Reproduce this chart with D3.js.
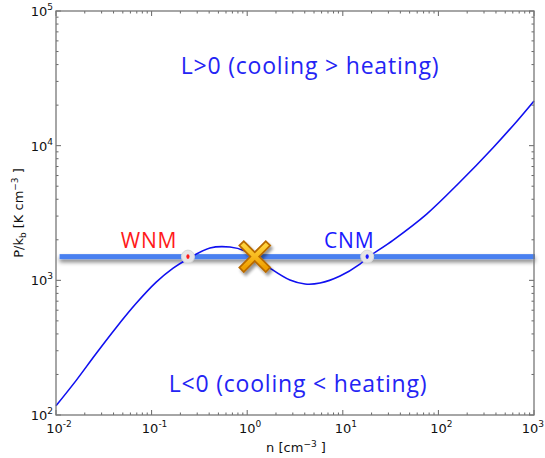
<!DOCTYPE html>
<html>
<head><meta charset="utf-8">
<title>Thermal equilibrium curve</title>
<style>
body { margin:0; background:#fff; }
svg text { font-family: "DejaVu Sans", sans-serif; }
.big { font-family: "Open Sans", Lato, sans-serif; letter-spacing: 0.8px; }
</style>
</head>
<body>
<svg width="545" height="458"></svg>
<script src="https://d3js.org/d3.v7.min.js"></script>
<script>
// density n [cm^-3] and pressure P/k [K cm^-3] along the equilibrium curve
var nVals = [0.01, 0.0162, 0.0262, 0.0425, 0.0687, 0.111, 0.168, 0.229, 0.408, 0.66, 0.95, 1.21, 1.73, 2.8, 4.03, 5.78, 9.36, 15.1, 17.9, 33.7, 75.4, 168, 375, 659, 1000];
var pVals = [117, 180, 285, 445, 672, 965, 1230, 1416, 1738, 1766, 1652, 1490, 1233, 1005, 939, 955, 1077, 1321, 1465, 1991, 3105, 5370, 9700, 15140, 21500];

var pEq = 1500;               // pressure of the horizontal line
var phaseNames = ["WNM", "CNM"];
var phaseN = [0.24, 18];
var phaseColors = ["#ff1a1a", "#1a1aff"];
var phaseLabelDx = [-39, -18];
var unstableN = 1.2;

var xTicks = [1e-2, 1e-1, 1e0, 1e1, 1e2, 1e3];
var xTickExp = ["-2", "-1", "0", "1", "2", "3"];
var yTicks = [1e2, 1e3, 1e4, 1e5];
var yTickExp = ["2", "3", "4", "5"];

var svg = d3.select("svg"),
    W = +svg.attr("width"), H = +svg.attr("height");
var m = {left: 56, right: 11, top: 11, bottom: 43};

var x = d3.scaleLog().domain([1e-2, 1e3]).range([m.left, W - m.right]);
var y = d3.scaleLog().domain([1e2, 1e5]).range([H - m.bottom, m.top]);

var defs = svg.append("defs");
var sh = defs.append("filter").attr("id", "shadow")
  .attr("x", "-10%").attr("y", "-100%").attr("width", "120%").attr("height", "400%");
sh.append("feDropShadow").attr("dx", 0).attr("dy", 3).attr("stdDeviation", 2)
  .attr("flood-color", "#000").attr("flood-opacity", 0.5);
var sh2 = defs.append("filter").attr("id", "shadow2")
  .attr("x", "-50%").attr("y", "-50%").attr("width", "200%").attr("height", "200%");
sh2.append("feDropShadow").attr("dx", 2).attr("dy", 3).attr("stdDeviation", 1.5)
  .attr("flood-color", "#000").attr("flood-opacity", 0.4);
var gr = defs.append("linearGradient").attr("id", "gold")
  .attr("x1", 0).attr("y1", 0).attr("x2", 0).attr("y2", 1);
gr.append("stop").attr("offset", "0%").attr("stop-color", "#ffd23a");
gr.append("stop").attr("offset", "100%").attr("stop-color", "#f0a000");

// axes frame and ticks (matplotlib style, inward, on all four sides)
var x0 = x.range()[0], x1 = x.range()[1], y0 = y.range()[0], y1 = y.range()[1];
var frame = svg.append("g");
var minorX = [], minorY = [];
xTicks.slice(0, -1).forEach(function(t) { for (var k = 2; k < 10; k++) minorX.push(t * k); });
yTicks.slice(0, -1).forEach(function(t) { for (var k = 2; k < 10; k++) minorY.push(t * k); });

function tickLines(vals, len, isX) {
  vals.forEach(function(v) {
    if (isX) {
      frame.append("line").attr("x1", x(v)).attr("x2", x(v)).attr("y1", y0).attr("y2", y0 - len);
      frame.append("line").attr("x1", x(v)).attr("x2", x(v)).attr("y1", y1).attr("y2", y1 + len);
    } else {
      frame.append("line").attr("y1", y(v)).attr("y2", y(v)).attr("x1", x0).attr("x2", x0 + len);
      frame.append("line").attr("y1", y(v)).attr("y2", y(v)).attr("x1", x1).attr("x2", x1 - len);
    }
  });
}
tickLines(xTicks, 5, true);
tickLines(minorX, 2.5, true);
tickLines(yTicks, 5, false);
tickLines(minorY, 2.5, false);
frame.selectAll("line").attr("stroke", "#666").attr("stroke-width", 1);

// equilibrium pressure band
svg.append("rect")
  .attr("x", x(0.0109)).attr("width", x(1e3) + 1 - x(0.0109))
  .attr("y", y(pEq) - 2.5).attr("height", 5)
  .attr("fill", "#4a80f0")
  .attr("filter", "url(#shadow)");

// cooling = heating curve
var line = d3.line()
  .x(function(d) { return x(d[0]); })
  .y(function(d) { return y(d[1]); })
  .curve(d3.curveCatmullRom);
svg.append("path")
  .datum(d3.zip(nVals, pVals))
  .attr("d", line)
  .attr("fill", "none").attr("stroke", "#1010f0").attr("stroke-width", 1.6);

svg.append("rect")
  .attr("x", x0).attr("y", y1).attr("width", x1 - x0).attr("height", y0 - y1)
  .attr("fill", "none").attr("stroke", "#777").attr("stroke-width", 1.3);

// stable phases
phaseNames.forEach(function(name, i) {
  var cx = x(phaseN[i]), cy = y(pEq);
  svg.append("circle").attr("cx", cx).attr("cy", cy).attr("r", 6.5)
    .attr("fill", "#e6e6e6").attr("stroke", "#d8d8d8").attr("stroke-width", 1);
  svg.append("ellipse").attr("cx", cx).attr("cy", cy).attr("rx", 1.6).attr("ry", 2.4)
    .attr("fill", phaseColors[i]);
  svg.append("text").attr("class", "big")
    .attr("x", cx + phaseLabelDx[i]).attr("y", cy - 9)
    .attr("text-anchor", "middle")
    .attr("font-size", 21).attr("fill", phaseColors[i])
    .text(name);
});

// unstable point
var ux = x(unstableN), uy = y(pEq);
var cross = svg.append("g").attr("transform", "translate(" + ux + "," + uy + ")")
  .attr("filter", "url(#shadow2)");
var arms = [[-11, -11, 11, 11], [-11, 11, 11, -11]];
arms.forEach(function(s) {
  cross.append("line").attr("x1", s[0]).attr("y1", s[1]).attr("x2", s[2]).attr("y2", s[3])
    .attr("stroke", "#b86a00").attr("stroke-width", 8).attr("stroke-linecap", "square");
});
arms.forEach(function(s) {
  cross.append("line").attr("x1", s[0]).attr("y1", s[1]).attr("x2", s[2]).attr("y2", s[3])
    .attr("stroke", "url(#gold)").attr("stroke-width", 4.5).attr("stroke-linecap", "square");
});

// region labels
svg.append("text").attr("class", "big")
  .attr("x", 310).attr("y", 74).attr("text-anchor", "middle")
  .attr("font-size", 23).attr("fill", "#2424f4")
  .text("L>0 (cooling > heating)");
svg.append("text").attr("class", "big")
  .attr("x", 298).attr("y", 392).attr("text-anchor", "middle")
  .attr("font-size", 23).attr("fill", "#2424f4")
  .text("L<0 (cooling < heating)");

// tick labels
xTicks.forEach(function(t, i) {
  var last = i === xTicks.length - 1;
  var tx = svg.append("text").attr("x", last ? W - 1 : x(t) + 3).attr("y", y0 + 18)
    .attr("text-anchor", last ? "end" : "middle").attr("font-size", 13).attr("fill", "#111");
  tx.append("tspan").text("10");
  tx.append("tspan").attr("dy", -6).attr("font-size", 9).text(xTickExp[i]);
});
yTicks.forEach(function(t, i) {
  var ty = svg.append("text").attr("x", x0 - 3).attr("y", y(t) + 5)
    .attr("text-anchor", "end").attr("font-size", 13).attr("fill", "#111");
  ty.append("tspan").text("10");
  ty.append("tspan").attr("dy", -6).attr("font-size", 9).text(yTickExp[i]);
});

// axis titles
var xl = svg.append("text").attr("x", 296).attr("y", 452)
  .attr("text-anchor", "middle").attr("font-size", 13).attr("fill", "#111");
xl.append("tspan").text("n [cm");
xl.append("tspan").attr("dy", -5).attr("font-size", 9).text("\u22123");
xl.append("tspan").attr("dy", 5).text(" ]");

var yl = svg.append("text")
  .attr("transform", "translate(23," + ((y0 + y1) / 2) + ") rotate(-90)")
  .attr("text-anchor", "middle").attr("font-size", 13).attr("fill", "#111");
yl.append("tspan").text("P/k");
yl.append("tspan").attr("dy", 3).attr("font-size", 9).text("b");
yl.append("tspan").attr("dy", -3).text(" [K cm");
yl.append("tspan").attr("dy", -5).attr("font-size", 9).text("\u22123");
yl.append("tspan").attr("dy", 5).text(" ]");
</script>
</body>
</html>
